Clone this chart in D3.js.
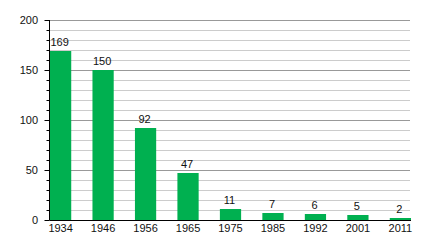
<!DOCTYPE html>
<html><head><meta charset="utf-8">
<script src="https://cdn.jsdelivr.net/npm/d3@7"></script>
<style>body{margin:0;background:#fff}svg{display:block}text{font-family:"Liberation Sans",Arial,sans-serif;font-size:11px;fill:#111}</style>
</head><body>
<svg id="c" width="440" height="240"></svg>
<script>
const categories = ["1934","1946","1956","1965","1975","1985","1992","2001","2011"];
const values = [169,150,92,47,11,7,6,5,2];
const yTicks = [0,50,100,150,200];

(function(){
const svg = d3.select("#c");
const mLeft = 49.5, mRight = 411, mTop = 20, mBottom = 220;
const x = d3.scaleBand().domain(categories).range([50, mRight]).paddingInner(0.5).paddingOuter(0);
const y = d3.scaleLinear().domain([0,200]).range([mBottom, mTop]);

const minor = d3.range(0, 201, 10);
svg.append("g").selectAll("line").data(minor).join("line")
  .attr("x1", mLeft).attr("x2", mRight - 1)
  .attr("y1", d => Math.round(y(d)) + 0.5).attr("y2", d => Math.round(y(d)) + 0.5)
  .attr("stroke", d => d % 50 === 0 ? "#999" : "#ccc").attr("stroke-width", 1);

svg.append("g").selectAll("rect").data(values).join("rect")
  .attr("x", (d,i) => x(categories[i])).attr("width", x.bandwidth())
  .attr("y", d => y(d)).attr("height", d => mBottom - y(d))
  .attr("fill", "#00b050");

svg.append("g").selectAll("text").data(values).join("text")
  .attr("x", (d,i) => x(categories[i]) + x.bandwidth()/2 - 1)
  .attr("y", d => y(d) - 5)
  .attr("text-anchor", "middle").text(d => d);

const ya = svg.append("g");
ya.append("line").attr("x1", mLeft).attr("x2", mLeft).attr("y1", mTop).attr("y2", mBottom).attr("stroke", "#000");
ya.selectAll("line.t").data(minor).join("line").attr("class","t")
  .attr("x1", d => d % 50 === 0 ? mLeft - 5 : mLeft - 3).attr("x2", mLeft)
  .attr("y1", d => Math.round(y(d)) + 0.5).attr("y2", d => Math.round(y(d)) + 0.5)
  .attr("stroke", "#000");
ya.selectAll("text").data(yTicks).join("text")
  .attr("x", 38).attr("y", d => y(d) + 4).attr("text-anchor", "end").text(d => d);

svg.append("line").attr("x1", mLeft).attr("x2", mRight).attr("y1", mBottom + 0.5).attr("y2", mBottom + 0.5).attr("stroke", "#000");
svg.append("g").selectAll("text").data(categories).join("text")
  .attr("x", d => x(d) + x.bandwidth()/2).attr("y", 232)
  .attr("text-anchor", "middle").text(d => d);
})();
</script>
</body></html>
